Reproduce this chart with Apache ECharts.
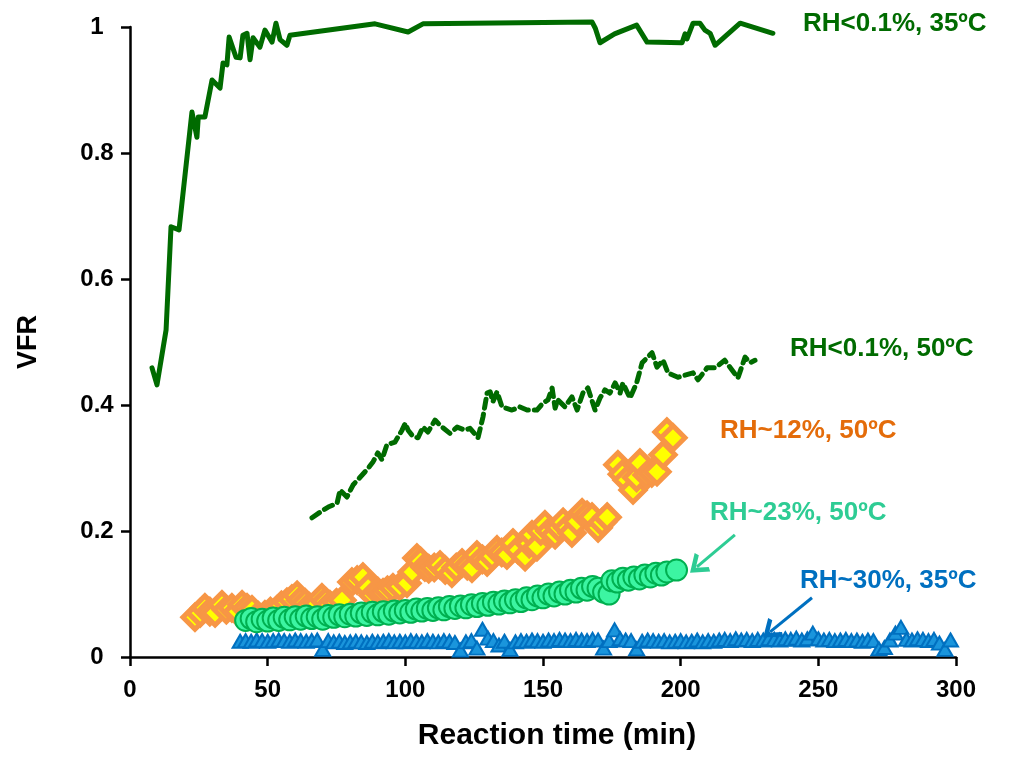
<!DOCTYPE html>
<html>
<head>
<meta charset="utf-8">
<script src="https://cdn.jsdelivr.net/npm/echarts@6/dist/echarts.min.js"></script>
<style>
  html, body { margin: 0; padding: 0; background: #fff; }
  #chart { width: 1014px; height: 763px; }
</style>
</head>
<body>
<div id="chart"></div>
<script>
// VFR vs reaction time for five humidity / temperature conditions
const xTicks = [0, 50, 100, 150, 200, 250, 300];
const yTicks = [0, 0.2, 0.4, 0.6, 0.8, 1];

// RH<0.1%, 35ºC (solid line)
const dry35 = [
  [8.0,0.459],[9.8,0.432],[13.1,0.519],[14.9,0.683],[17.8,0.678],[22.5,0.865],[24.3,0.825],
  [24.8,0.857],[27.2,0.857],[29.8,0.916],[32.7,0.903],[33.8,0.943],[35.2,0.94],[36.0,0.984],
  [38.5,0.952],[40,0.951],[41,0.987],[42.5,0.99],[43.6,0.948],[44.7,0.983],[47.2,0.968],
  [49,0.995],[51.6,0.976],[53,1.006],[54.5,0.98],[57,0.971],[58.1,0.987],[89,1.005],
  [101,0.992],[106.4,1.005],[167.8,1.008],[169,0.998],[170.7,0.975],[176,0.989],[184,1.003],
  [187.8,0.976],[200.5,0.975],[201.6,0.989],[202.3,0.981],[204.5,1.006],[207,1.006],
  [208.8,0.995],[210.7,0.99],[212.5,0.971],[221.6,1.006],[233.5,0.99]
];

// RH<0.1%, 50ºC (dashed line)
const dry50 = [
  [66.1,0.221],[70.1,0.233],[72,0.238],[75.2,0.244],[76.3,0.265],[78.8,0.254],[81,0.273],
  [86,0.297],[88.3,0.31],[90,0.324],[91.5,0.313],[93.3,0.337],[96.2,0.341],[98.8,0.36],
  [100,0.371],[101,0.36],[102.8,0.35],[104.6,0.348],[106.4,0.365],[108.2,0.357],[110.8,0.376],
  [113.3,0.365],[116.2,0.355],[118.8,0.365],[121.7,0.36],[123.5,0.363],[126.4,0.348],
  [128.2,0.381],[129.7,0.419],[130.8,0.421],[131.8,0.405],[133.3,0.421],[135.1,0.397],
  [138.7,0.392],[141.6,0.397],[144.2,0.392],[147.8,0.392],[150,0.403],[151.8,0.408],
  [153.3,0.427],[154.4,0.395],[155.4,0.408],[158,0.397],[160.5,0.413],[162.4,0.392],
  [164.5,0.419],[166.3,0.427],[168.9,0.392],[170.7,0.411],[172.5,0.424],[174.3,0.419],
  [176.2,0.435],[178,0.419],[179,0.435],[181.6,0.411],[184,0.435],[186,0.467],[189.6,0.483],
  [191.4,0.46],[193.6,0.471],[195.4,0.451],[199,0.444],[204.5,0.451],[206.3,0.44],
  [209.6,0.459],[212.5,0.459],[216,0.471],[220.8,0.443],[223.4,0.476],[225.2,0.467],[227,0.471]
];

// RH~12%, 50ºC (diamonds)
const rh12 = [
  [23.6,0.063],[25.5,0.070],[27.2,0.078],[29,0.072],[30.9,0.070],[33.4,0.083],[35,0.075],
  [37,0.078],[39,0.072],[40.7,0.083],[42.5,0.078],[44.3,0.075],[46.5,0.066],[49,0.067],
  [51,0.072],[53.4,0.075],[55,0.082],[57,0.087],[58.8,0.092],[60.7,0.098],[62,0.090],
  [63.6,0.086],[65,0.080],[66.5,0.075],[68,0.085],[69.7,0.094],[71,0.088],[72.6,0.083],
  [75,0.086],[77,0.090],[80.6,0.119],[82.5,0.122],[84.6,0.127],[86.5,0.110],[88.3,0.098],
  [90,0.104],[91.9,0.102],[93.5,0.106],[95.5,0.110],[98,0.112],[100.6,0.117],[102.5,0.135],
  [104.2,0.157],[105.5,0.152],[107.1,0.143],[108.5,0.140],[110.5,0.142],[112.6,0.146],
  [114.5,0.138],[116.9,0.133],[118.5,0.142],[120.6,0.149],[122.5,0.145],[124.2,0.141],
  [126,0.162],[128,0.155],[129.7,0.151],[131.5,0.160],[133.3,0.170],[135,0.166],[136.9,0.162],
  [139.1,0.181],[141,0.170],[143.5,0.159],[145,0.180],[146,0.194],[147.8,0.175],[149.2,0.200],
  [150.7,0.210],[152.5,0.200],[154.4,0.194],[155.8,0.205],[157.3,0.214],[159,0.205],
  [160.5,0.197],[162.3,0.215],[164.2,0.229],[166,0.225],[167.8,0.222],[170,0.205],
  [171.5,0.214],[173.3,0.222],[177.2,0.305],[178.8,0.290],[180.5,0.281],[182.7,0.265],
  [184,0.285],[185.2,0.308],[187.8,0.289],[189.5,0.292],[191.4,0.294],[193.6,0.321],
  [195,0.357],[197.2,0.348]
];

// RH~23%, 50ºC (circles)
const rh23 = [
  [42,0.058],[44,0.061],[46,0.056],[48,0.060],[50,0.057],[52,0.062],[54,0.058],[56,0.063],
  [58,0.059],[60,0.064],[62,0.060],[64,0.065],[66,0.061],[68,0.064],[70,0.060],[72,0.066],
  [74,0.063],[76,0.067],[78,0.064],[80,0.068],[82,0.065],[84,0.070],[86,0.066],[88,0.071],
  [90,0.067],[92,0.072],[94,0.068],[96,0.073],[98,0.070],[100,0.074],[102,0.071],[104,0.076],
  [106,0.073],[108,0.077],[110,0.074],[112,0.078],[114,0.075],[116,0.080],[118,0.077],
  [120,0.081],[122,0.078],[124,0.083],[126,0.080],[128,0.085],[130,0.082],[132,0.087],
  [134,0.084],[136,0.089],[138,0.086],[140,0.091],[142,0.088],[144,0.094],[146,0.091],
  [148,0.097],[150,0.094],[152,0.100],[154,0.097],[156,0.103],[158,0.100],[160,0.106],
  [162,0.103],[164,0.109],[166,0.106],[168,0.112],[170,0.109],[172,0.103],[174,0.100],
  [175,0.121],[177,0.119],[179,0.125],[181,0.122],[183,0.127],[185,0.124],[187,0.130],
  [189,0.127],[191,0.133],[193,0.130],[195,0.135],[198.5,0.138]
];

// RH~30%, 35ºC (triangles)
const rh30 = [
  [40,0.025],[42,0.026],[44,0.025],[46,0.027],[48,0.026],[50,0.025],[52,0.026],[54,0.027],
  [56,0.026],[58,0.025],[60,0.027],[62,0.026],[64,0.025],[66,0.026],[68,0.027],[70,0.012],
  [72,0.026],[74,0.024],[76,0.025],[78,0.023],[80,0.024],[82,0.025],[84,0.024],[86,0.023],
  [88,0.025],[90,0.024],[92,0.025],[94,0.026],[96,0.024],[98,0.025],[100,0.024],[102,0.026],
  [104,0.025],[106,0.024],[108,0.026],[110,0.025],[112,0.024],[114,0.026],[116,0.025],
  [118,0.023],[120,0.011],[122,0.024],[124,0.026],[126,0.014],[128,0.044],[130,0.030],
  [132,0.026],[134,0.019],[136,0.025],[138,0.012],[140,0.024],[142,0.026],[144,0.025],
  [146,0.027],[148,0.026],[150,0.025],[152,0.027],[154,0.026],[156,0.028],[158,0.027],
  [160,0.026],[162,0.028],[164,0.027],[166,0.026],[168,0.028],[170,0.027],[172,0.014],
  [174,0.026],[176,0.043],[178,0.029],[180,0.027],[182,0.026],[184,0.013],[186,0.025],
  [188,0.027],[190,0.026],[192,0.025],[194,0.026],[196,0.024],[198,0.025],[200,0.026],
  [202,0.024],[204,0.025],[206,0.027],[208,0.024],[210,0.026],[212,0.025],[214,0.027],
  [216,0.028],[218,0.026],[220,0.029],[222,0.027],[224,0.028],[226,0.026],[228,0.028],
  [230,0.027],[232,0.029],[234,0.028],[236,0.027],[238,0.029],[240,0.028],[242,0.030],
  [244,0.027],[246,0.029],[248,0.038],[250,0.029],[252,0.027],[254,0.028],[256,0.026],
  [258,0.027],[260,0.028],[262,0.026],[264,0.027],[266,0.025],[268,0.027],[270,0.026],
  [272,0.013],[274,0.015],[276,0.027],[278,0.038],[280,0.047],[282,0.028],[284,0.027],
  [286,0.029],[288,0.028],[290,0.026],[292,0.028],[294,0.022],[296,0.012],[298,0.027]
];

// Callout arrows (tail -> head, in data units)
const arrow23 = [[219.7, 0.194], [205.9, 0.143]];
const arrow30 = [[247.7, 0.094], [232.5, 0.040]];

const FONT = 'Arial, "Liberation Sans", sans-serif';
const C_DRY = '#006B00';
const C_12 = '#E46C0A';
const C_23 = '#2ECC94';
const C_30 = '#0070C0';
const chevron = 'path://M5,0 L10,9 L8.2,10 L5,4.2 L1.8,10 L0,9 Z';

function arrowLine(pts, color) {
  return {
    silent: true,
    animation: false,
    symbol: ['none', chevron],
    symbolSize: [24, 18],
    label: { show: false },
    lineStyle: { color: color, width: 3, type: 'solid' },
    data: [[{ coord: pts[0] }, { coord: pts[1] }]]
  };
}

const chart = echarts.init(document.getElementById('chart'), null, { renderer: 'canvas' });

chart.setOption({
  animation: false,
  backgroundColor: '#ffffff',
  grid: { left: 130, right: 58, top: 27, bottom: 106, containLabel: false },
  xAxis: {
    type: 'value',
    min: xTicks[0],
    max: xTicks[xTicks.length - 1],
    interval: 50,
    name: 'Reaction time (min)',
    nameLocation: 'middle',
    nameGap: 64,
    nameTextStyle: { fontFamily: FONT, fontWeight: 'bold', fontSize: 30, color: '#000', padding: [0, 0, 0, 28] },
    axisLine: { onZero: false, lineStyle: { color: '#000', width: 2.5 } },
    axisTick: { show: true, inside: false, length: 9, lineStyle: { color: '#000', width: 2.5 } },
    axisLabel: { margin: 21, fontFamily: FONT, fontWeight: 'bold', fontSize: 24, color: '#000' },
    splitLine: { show: false }
  },
  yAxis: {
    type: 'value',
    min: yTicks[0],
    max: yTicks[yTicks.length - 1],
    interval: 0.2,
    name: 'VFR',
    nameLocation: 'middle',
    nameGap: 88,
    nameTextStyle: { fontFamily: FONT, fontWeight: 'bold', fontSize: 27, color: '#000' },
    axisLine: { show: true, onZero: false, lineStyle: { color: '#000', width: 2.5 } },
    axisTick: { show: true, inside: false, length: 9, lineStyle: { color: '#000', width: 2.5 } },
    axisLabel: {
      margin: 33, align: 'center', fontFamily: FONT, fontWeight: 'bold', fontSize: 24, color: '#000',
      formatter: v => String(Math.round(v * 10) / 10)
    },
    splitLine: { show: false }
  },
  series: [
    {
      name: 'RH<0.1%, 35ºC',
      type: 'line',
      data: dry35,
      clip: false,
      showSymbol: false,
      symbol: 'none',
      lineStyle: { color: C_DRY, width: 5, join: 'round', cap: 'round' },
      z: 2
    },
    {
      name: 'RH<0.1%, 50ºC',
      type: 'line',
      data: dry50,
      clip: false,
      showSymbol: false,
      symbol: 'none',
      lineStyle: { color: C_DRY, width: 5, type: [9, 6], cap: 'round', join: 'round' },
      z: 2
    },
    {
      name: 'RH~30%, 35ºC',
      type: 'scatter',
      data: rh30,
      clip: false,
      symbol: 'triangle',
      symbolSize: [15, 13],
      itemStyle: { color: '#1A95DC', borderColor: '#0070C0', borderWidth: 2, opacity: 1 },
      markLine: arrowLine(arrow30, C_30),
      z: 3
    },
    {
      name: 'RH~12%, 50ºC',
      type: 'scatter',
      data: rh12,
      clip: false,
      symbol: 'diamond',
      symbolSize: [24, 24],
      itemStyle: { color: '#FFFF00', borderColor: '#F79646', borderWidth: 5, opacity: 1 },
      z: 4
    },
    {
      name: 'RH~23%, 50ºC',
      type: 'scatter',
      data: rh23,
      clip: false,
      symbol: 'circle',
      symbolSize: 21,
      itemStyle: { color: '#3CF5A2', borderColor: '#00B050', borderWidth: 2, opacity: 1 },
      markLine: arrowLine(arrow23, C_23),
      z: 5
    }
  ],
  graphic: [
    { type: 'text', left: 803, top: 11, style: { text: 'RH<0.1%, 35ºC', fill: C_DRY, font: 'bold 26px ' + FONT } },
    { type: 'text', left: 790, top: 336, style: { text: 'RH<0.1%, 50ºC', fill: C_DRY, font: 'bold 26px ' + FONT } },
    { type: 'text', left: 720, top: 418, style: { text: 'RH~12%, 50ºC', fill: C_12, font: 'bold 26px ' + FONT } },
    { type: 'text', left: 710, top: 500, style: { text: 'RH~23%, 50ºC', fill: C_23, font: 'bold 26px ' + FONT } },
    { type: 'text', left: 800, top: 568, style: { text: 'RH~30%, 35ºC', fill: C_30, font: 'bold 26px ' + FONT } }
  ]
});
</script>
</body>
</html>
